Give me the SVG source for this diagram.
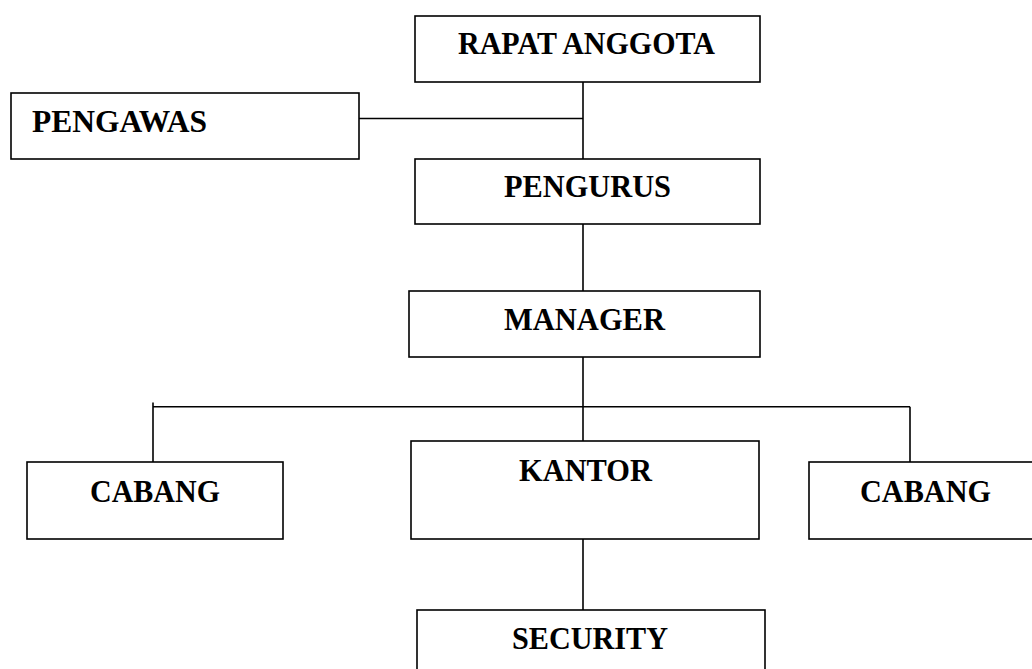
<svg xmlns="http://www.w3.org/2000/svg" width="1032" height="669" viewBox="0 0 1032 669">
<style>
.box{fill:#fff;stroke:#000;stroke-width:1.6}
.lbl{font-family:"Liberation Serif","Times New Roman",serif;font-weight:bold;font-size:31px;fill:#000}
.mid{text-anchor:middle}
.con{stroke:#000;stroke-width:1.6;fill:none}
</style>
<rect width="1032" height="669" fill="#fff"/>
<g id="connectors">
<line class="con" x1="583" y1="82" x2="583" y2="159"/>
<line class="con" x1="359" y1="118.5" x2="583" y2="118.5"/>
<line class="con" x1="583" y1="224" x2="583" y2="291"/>
<line class="con" x1="583" y1="357" x2="583" y2="441"/>
<line class="con" x1="153" y1="406.7" x2="910" y2="406.7"/>
<line class="con" x1="153" y1="402.5" x2="153" y2="462"/>
<line class="con" x1="910" y1="406.7" x2="910" y2="462"/>
<line class="con" x1="583" y1="539" x2="583" y2="610"/>
</g>
<g id="rapat">
<rect class="box" x="415" y="16" width="345" height="66"/>
<text class="lbl" x="458" y="54" textLength="257" lengthAdjust="spacingAndGlyphs">RAPAT ANGGOTA</text>
</g>
<g id="pengawas">
<rect class="box" x="11" y="93" width="348" height="66"/>
<text class="lbl" x="32" y="132" textLength="175" lengthAdjust="spacingAndGlyphs">PENGAWAS</text>
</g>
<g id="pengurus">
<rect class="box" x="415" y="159" width="345" height="65"/>
<text class="lbl" x="504" y="196.7" textLength="167" lengthAdjust="spacingAndGlyphs">PENGURUS</text>
</g>
<g id="manager">
<rect class="box" x="409" y="291" width="351" height="66"/>
<text class="lbl" x="504" y="330" textLength="161" lengthAdjust="spacingAndGlyphs">MANAGER</text>
</g>
<g id="cabang-left">
<rect class="box" x="27" y="462" width="256" height="77"/>
<text class="lbl" x="90" y="501.7" textLength="130" lengthAdjust="spacingAndGlyphs">CABANG</text>
</g>
<g id="kantor">
<rect class="box" x="411" y="441" width="348" height="98"/>
<text class="lbl" x="519" y="480.7" textLength="133" lengthAdjust="spacingAndGlyphs">KANTOR</text>
</g>
<g id="cabang-right">
<rect class="box" x="809" y="462" width="240" height="77"/>
<text class="lbl" x="860" y="501.7" textLength="131" lengthAdjust="spacingAndGlyphs">CABANG</text>
</g>
<g id="security">
<rect class="box" x="417" y="610" width="348" height="70"/>
<text class="lbl" x="512" y="649.3" textLength="156" lengthAdjust="spacingAndGlyphs">SECURITY</text>
</g>
</svg>
